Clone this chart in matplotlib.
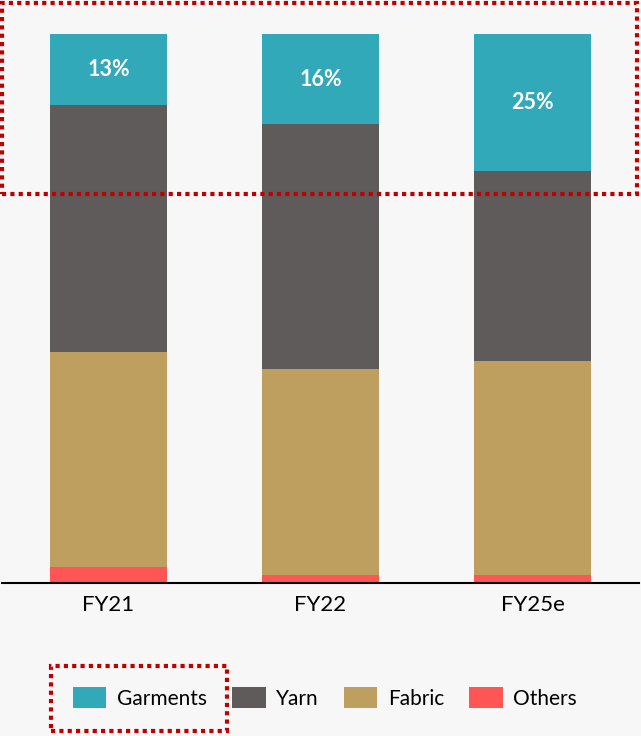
import matplotlib

matplotlib.use("Agg")
import matplotlib.pyplot as plt
import numpy as np
from matplotlib.patches import Rectangle

# share of revenue by segment (%)
years = ["FY21", "FY22", "FY25e"]
segments = ["Others", "Fabric", "Yarn", "Garments"]
others = [3.0, 1.5, 1.5]
fabric = [39.0, 37.5, 39.0]
yarn = [45.0, 44.6, 34.5]
garments = [13.0, 16.4, 25.0]

colors = {
    "Garments": "#31a9b8",
    "Yarn": "#5f5b5a",
    "Fabric": "#bf9f60",
    "Others": "#ff5555",
}
BG = "#f7f7f7"
DOT_RED = "#c00000"

plt.rcParams["font.family"] = ["Lato", "DejaVu Sans"]

fig = plt.figure(figsize=(6.41, 7.36), dpi=100, facecolor=BG)
ax = fig.add_axes([0.0039, 0.2079, 0.9922, 0.7459], facecolor=BG)

x = np.arange(len(years))
width = 0.552
bottom = np.zeros(len(years))
bars = {}
for name, vals in zip(segments, [others, fabric, yarn, garments]):
    bars[name] = ax.bar(x, vals, width, bottom=bottom, color=colors[name],
                        label=name, linewidth=0)
    bottom += np.array(vals)

# label only the garments share
for rect, v in zip(bars["Garments"], garments):
    ax.text(rect.get_x() + rect.get_width() / 2,
            rect.get_y() + rect.get_height() / 2,
            f"{v:.0f}%", ha="center", va="center",
            color="white", fontsize=15.5, fontweight="bold")

ax.set_xlim(-0.5, 2.5)
ax.set_ylim(0, 100)
ax.set_xticks(x)
ax.set_xticklabels(years, fontsize=16)
ax.tick_params(axis="x", length=0, pad=9)
ax.set_yticks([])
for side in ["top", "left", "right"]:
    ax.spines[side].set_visible(False)
ax.spines["bottom"].set_linewidth(1.5)
ax.spines["bottom"].set_color("black")

handles = [bars[n] for n in ["Garments", "Yarn", "Fabric", "Others"]]
fig.legend(handles, ["Garments", "Yarn", "Fabric", "Others"],
           loc="center", bbox_to_anchor=(0.507, 0.0516), ncol=4,
           frameon=False, fontsize=15, handlelength=1.6, handleheight=1.15,
           handletextpad=0.5, columnspacing=1.22)

# dotted highlight boxes
for box in [(0.0031, 0.7364, 0.9906, 0.2595), (0.0796, 0.0068, 0.2746, 0.0883)]:
    fig.patches.append(Rectangle(box[:2], box[2], box[3], transform=fig.transFigure,
                                 fill=False, edgecolor=DOT_RED, linewidth=3,
                                 linestyle=(0, (1, 1)), zorder=5))

fig.savefig("out.png", dpi=100, facecolor=BG)
